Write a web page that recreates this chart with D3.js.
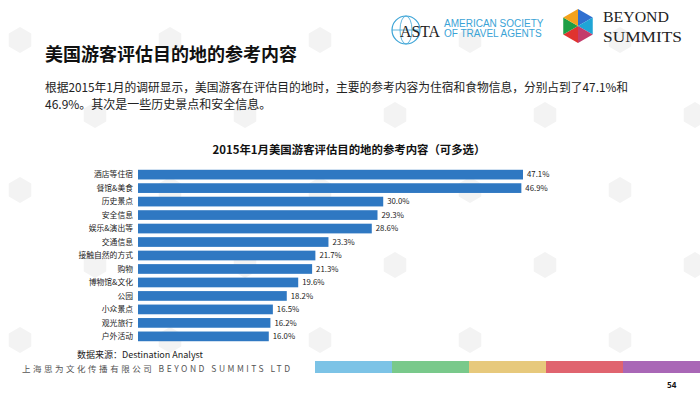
<!DOCTYPE html>
<meta charset="utf-8">
<style>
  body { margin: 0; background: #fff; }
  svg { display: block; font-family: "Noto Sans CJK SC", "Noto Sans", sans-serif; }
  .bar { fill: #2f78c2; }
</style>
<body>
<script src="https://d3js.org/d3.v7.min.js"></script>
<script>

// chart data
var categories = ["酒店等住宿", "餐馆&美食", "历史景点", "安全信息", "娱乐&演出等", "交通信息",
  "接触自然的方式", "购物", "博物馆&文化", "公园", "小众景点", "观光旅行", "户外活动"];
var values = [47.1, 46.9, 30.0, 29.3, 28.6, 23.3, 21.7, 21.3, 19.6, 18.2, 16.5, 16.2, 16.0];
var footerColors = ["#7cc3e6", "#79c98b", "#e7c97c", "#e0646f", "#a967b6"];

var width = 700, height = 394;

var svg = d3.select("body").append("svg")
  .attr("width", width)
  .attr("height", height);

// faint watermark: hexagons only
var wm = svg.append("g").attr("fill", "#f3f3f3");
for (var r = 0; r < 6; r++) {
  for (var c = 0; c < 6; c++) {
    var wx = c * 150 + 20 + (r % 2) * 75, wy = r * 75 + 40;
    wm.append("path")
      .attr("d", d3.line()(d3.range(7).map(function (i) {
        var a = Math.PI / 3 * i + Math.PI / 6;
        return [wx + 13 * Math.cos(a), wy + 13 * Math.sin(a)];
      })));
  }
}

// ASTA logo
var asta = svg.append("g");
asta.append("circle").attr("cx", 406).attr("cy", 30).attr("r", 14)
  .attr("fill", "none").attr("stroke", "#3aa3d6").attr("stroke-width", 1.2);
asta.append("ellipse").attr("cx", 406).attr("cy", 30).attr("rx", 6).attr("ry", 14)
  .attr("fill", "none").attr("stroke", "#3aa3d6").attr("stroke-width", 0.8);
asta.append("line").attr("x1", 392).attr("x2", 420).attr("y1", 30).attr("y2", 30)
  .attr("stroke", "#3aa3d6").attr("stroke-width", 0.8);
asta.append("text").attr("x", 400).attr("y", 37)
  .attr("textLength", 40).attr("lengthAdjust", "spacingAndGlyphs")
  .style("font-family", "Liberation Serif").style("font-size", "17px").attr("fill", "#222")
  .text("ASTA");
asta.append("text").attr("x", 444).attr("y", 27)
  .style("font-family", "Liberation Sans").style("font-size", "10px").attr("fill", "#3aa3d6")
  .text("AMERICAN SOCIETY");
asta.append("text").attr("x", 444).attr("y", 37)
  .style("font-family", "Liberation Sans").style("font-size", "10px").attr("fill", "#3aa3d6")
  .text("OF TRAVEL AGENTS");

// Beyond Summits logo
var hexC = [578, 26], hexR = 17;
var hexPts = d3.range(6).map(function (i) {
  var a = Math.PI / 3 * i - Math.PI / 2;
  return [hexC[0] + hexR * Math.cos(a), hexC[1] + hexR * Math.sin(a)];
});
var hexCols = ["#2f6fd0", "#1fa5d6", "#c43b6b", "#e0332f", "#1e9e45", "#f3a21c"];
hexPts.forEach(function (p, i) {
  var q = hexPts[(i + 1) % 6];
  svg.append("path")
    .attr("d", "M" + hexC + "L" + p + "L" + q + "Z")
    .attr("fill", hexCols[i]);
});
svg.append("text").attr("x", 603).attr("y", 22)
  .attr("textLength", 66).attr("lengthAdjust", "spacingAndGlyphs")
  .style("font-family", "Liberation Serif").style("font-size", "15.5px").attr("fill", "#222")
  .text("BEYOND");
svg.append("text").attr("x", 603).attr("y", 42)
  .attr("textLength", 79).attr("lengthAdjust", "spacingAndGlyphs")
  .style("font-family", "Liberation Serif").style("font-size", "15.5px").attr("fill", "#222")
  .text("SUMMITS");

// page title and text
svg.append("text").attr("x", 45).attr("y", 61)
  .style("font-size", "18px").style("font-weight", "bold").attr("fill", "#111")
  .text("美国游客评估目的地的参考内容");
svg.append("text").attr("x", 45).attr("y", 92)
  .attr("textLength", 583).attr("lengthAdjust", "spacingAndGlyphs")
  .style("font-size", "12px").attr("fill", "#222")
  .text("根据2015年1月的调研显示，美国游客在评估目的地时，主要的参考内容为住宿和食物信息，分别占到了47.1%和");
svg.append("text").attr("x", 45).attr("y", 109)
  .style("font-size", "12px").attr("fill", "#222")
  .text("46.9%。其次是一些历史景点和安全信息。");

// chart title
svg.append("text").attr("x", 349).attr("y", 154)
  .attr("text-anchor", "middle")
  .style("font-size", "11.4px").style("font-weight", "bold").attr("fill", "#111")
  .text("2015年1月美国游客评估目的地的参考内容（可多选）");

// scales
var x = d3.scaleLinear().domain([0, 47.1]).range([138, 523]);
var y = d3.scaleBand().domain(categories).range([166, 345]).padding(0.28);

svg.selectAll(".bar")
  .data(values)
  .enter().append("rect")
  .attr("class", "bar")
  .attr("x", x(0))
  .attr("y", function (d, i) { return y(categories[i]); })
  .attr("width", function (d) { return x(d) - x(0); })
  .attr("height", y.bandwidth());

// category labels
svg.selectAll(".cat")
  .data(categories)
  .enter().append("text")
  .attr("class", "cat")
  .attr("x", 133)
  .attr("y", function (d) { return y(d) + y.bandwidth() / 2; })
  .attr("dy", "0.35em")
  .attr("text-anchor", "end")
  .style("font-size", "7.8px").attr("fill", "#222")
  .text(function (d) { return d; });

// value labels
svg.selectAll(".val")
  .data(values)
  .enter().append("text")
  .attr("class", "val")
  .attr("x", function (d) { return x(d) + 4; })
  .attr("y", function (d, i) { return y(categories[i]) + y.bandwidth() / 2; })
  .attr("dy", "0.35em")
  .style("font-size", "7.8px").attr("fill", "#222")
  .text(function (d) { return d.toFixed(1) + "%"; });

// source
svg.append("text").attr("x", 77).attr("y", 358)
  .style("font-size", "9px").attr("fill", "#222")
  .text("数据来源：Destination Analyst");

// footer
svg.append("text").attr("x", 22).attr("y", 372)
  .attr("textLength", 268).attr("lengthAdjust", "spacing")
  .style("font-size", "8.5px").attr("fill", "#555")
  .text("上海思为文化传播有限公司 BEYOND SUMMITS LTD");

var fx = d3.scaleBand().domain(d3.range(footerColors.length)).range([315, 700]);
svg.selectAll(".foot")
  .data(footerColors)
  .enter().append("rect")
  .attr("class", "foot")
  .attr("x", function (d, i) { return fx(i); })
  .attr("y", 361)
  .attr("width", fx.bandwidth())
  .attr("height", 12)
  .attr("fill", function (d) { return d; });

svg.append("text").attr("x", 667).attr("y", 388)
  .style("font-size", "8px").style("font-weight", "bold").attr("fill", "#111")
  .text("54");

</script>
</body>
